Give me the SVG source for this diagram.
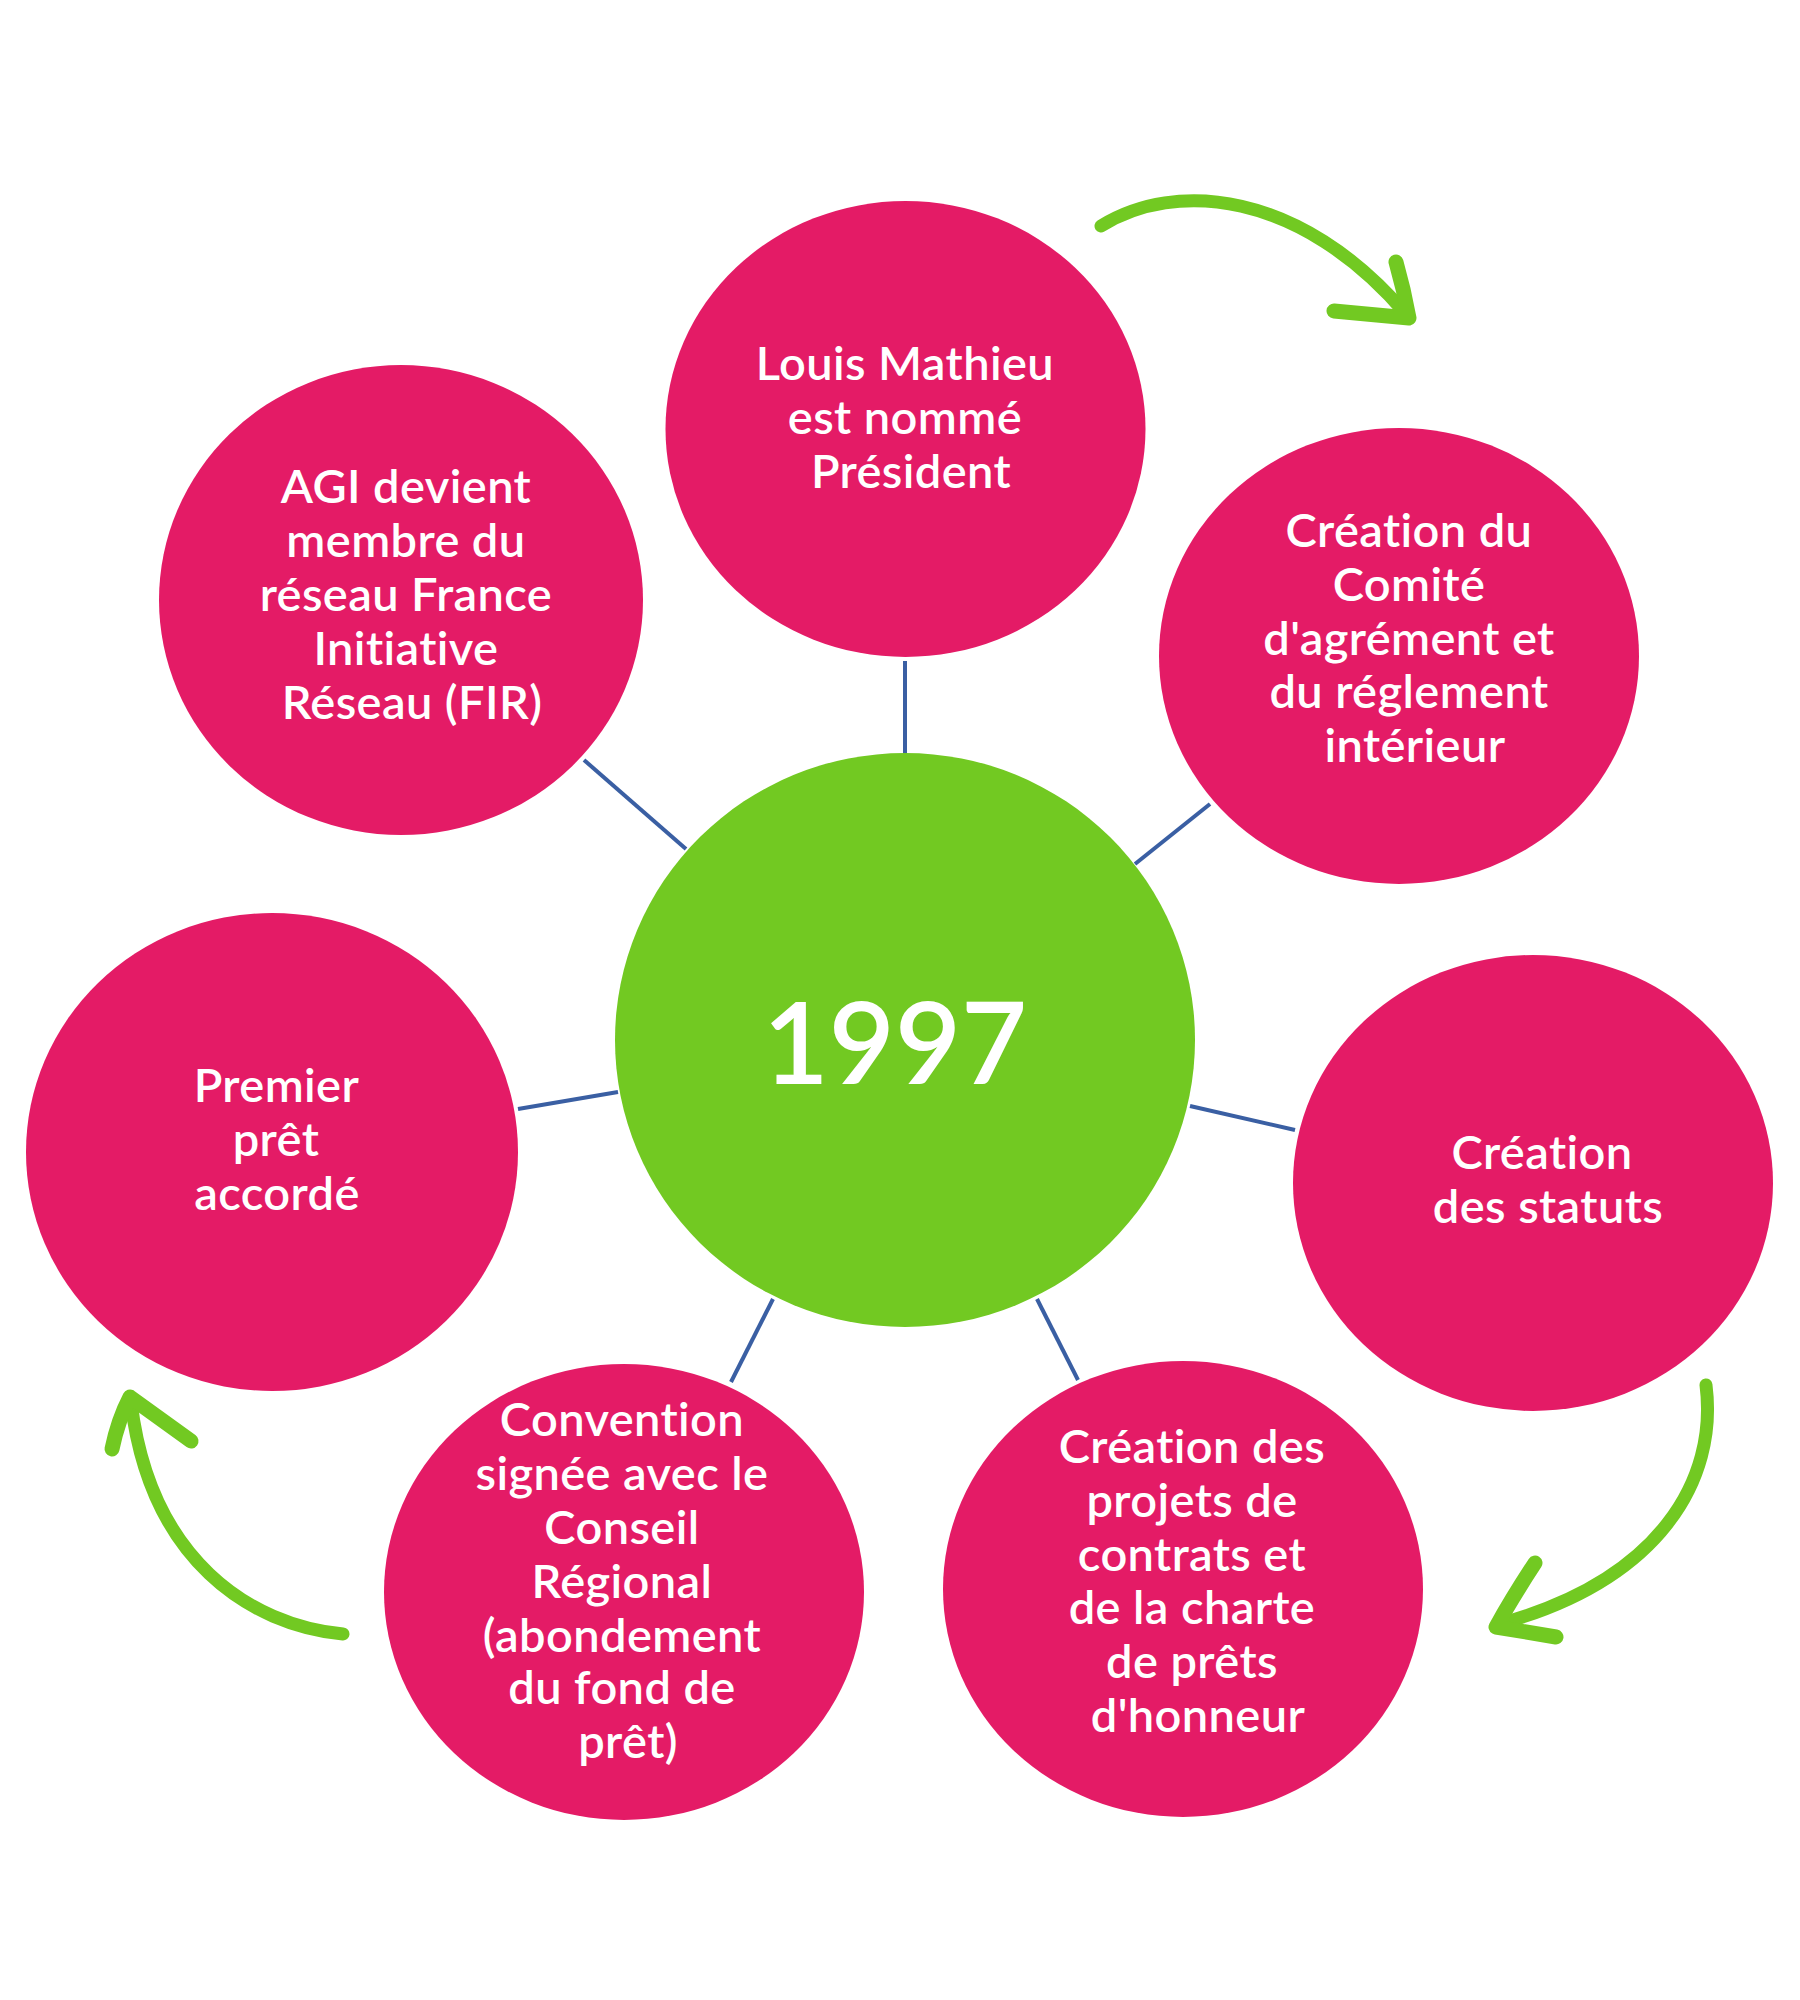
<svg xmlns="http://www.w3.org/2000/svg" width="1800" height="2000" viewBox="0 0 1800 2000">
  <defs>
    <style>
      .bubble { fill: #E41B66; }
      .hub { fill: #72C922; }
      .lbl { font-family: Lato, "Open Sans", "Liberation Sans", sans-serif; font-weight: 600; font-size: 47px; letter-spacing: 0.4px; fill: #FFFFFF; text-anchor: middle; }
      .year { font-family: Lato, "Open Sans", "Liberation Sans", sans-serif; font-weight: 600; font-size: 114px; fill: #FFFFFF; text-anchor: middle; }
      .link { stroke: #3A5FA3; stroke-width: 4; fill: none; }
      .arc { stroke: #72C922; stroke-width: 13; fill: none; stroke-linecap: round; stroke-linejoin: round; }
      .barb { stroke: #72C922; stroke-width: 15; fill: none; stroke-linecap: round; stroke-linejoin: round; }
    </style>
  </defs>
  <rect width="1800" height="2000" fill="#FFFFFF"/>

  <g id="connectors">
    <line class="link" x1="905" y1="661" x2="905" y2="753"/>
    <line class="link" x1="584" y1="760" x2="686" y2="849"/>
    <line class="link" x1="1210" y1="804" x2="1135" y2="864"/>
    <line class="link" x1="1190" y1="1106" x2="1295" y2="1130"/>
    <line class="link" x1="518" y1="1109" x2="618" y2="1092"/>
    <line class="link" x1="773" y1="1299" x2="731" y2="1382"/>
    <line class="link" x1="1037" y1="1299" x2="1078" y2="1380"/>
  </g>

  <g id="cycle-arrows">
    <g id="arrow-top">
      <path class="arc" d="M1101,226 C1175,180 1300,190 1406,314"/>
      <path class="barb" d="M1396,262 Q1404,290 1409,318 L1334,311"/>
    </g>
    <g id="arrow-right">
      <path class="arc" d="M1706,1385 C1718,1480 1660,1580 1499,1624"/>
      <path class="barb" d="M1535,1563 Q1512,1598 1496,1627 L1556,1637"/>
    </g>
    <g id="arrow-left">
      <path class="arc" d="M343,1634 C250,1625 150,1560 131,1402"/>
      <path class="barb" d="M112,1449 Q118,1420 130,1397 L191,1441"/>
    </g>
  </g>

  <g id="node-center">
    <ellipse class="hub" cx="905" cy="1040" rx="290" ry="287"/>
    <text class="year" x="895" y="1084">1997</text>
  </g>

  <g id="node-president">
    <ellipse class="bubble" cx="905.5" cy="429" rx="240" ry="228"/>
    <text class="lbl">
      <tspan x="911" y="380">Louis Mathieu</tspan>
      <tspan x="911" y="434">est nommé</tspan>
      <tspan x="911" y="488">Président</tspan>
    </text>
  </g>

  <g id="node-fir">
    <ellipse class="bubble" cx="401" cy="600" rx="242" ry="235"/>
    <text class="lbl">
      <tspan x="412" y="503">AGI devient</tspan>
      <tspan x="412" y="557">membre du</tspan>
      <tspan x="412" y="611">réseau France</tspan>
      <tspan x="412" y="665">Initiative</tspan>
      <tspan x="412" y="719">Réseau (FIR)</tspan>
    </text>
  </g>

  <g id="node-comite">
    <ellipse class="bubble" cx="1399" cy="656" rx="240" ry="228"/>
    <text class="lbl">
      <tspan x="1415" y="547">Création du</tspan>
      <tspan x="1415" y="601">Comité</tspan>
      <tspan x="1415" y="655">d'agrément et</tspan>
      <tspan x="1415" y="708">du réglement</tspan>
      <tspan x="1415" y="762">intérieur</tspan>
    </text>
  </g>

  <g id="node-statuts">
    <ellipse class="bubble" cx="1533" cy="1183" rx="240" ry="228"/>
    <text class="lbl">
      <tspan x="1548" y="1169">Création</tspan>
      <tspan x="1548" y="1223">des statuts</tspan>
    </text>
  </g>

  <g id="node-projets">
    <ellipse class="bubble" cx="1183" cy="1589" rx="240" ry="228"/>
    <text class="lbl">
      <tspan x="1198" y="1463">Création des</tspan>
      <tspan x="1198" y="1517">projets de</tspan>
      <tspan x="1198" y="1571">contrats et</tspan>
      <tspan x="1198" y="1624">de la charte</tspan>
      <tspan x="1198" y="1678">de prêts</tspan>
      <tspan x="1198" y="1732">d'honneur</tspan>
    </text>
  </g>

  <g id="node-convention">
    <ellipse class="bubble" cx="624" cy="1592" rx="240" ry="228"/>
    <text class="lbl">
      <tspan x="628" y="1436">Convention</tspan>
      <tspan x="628" y="1490">signée avec le</tspan>
      <tspan x="628" y="1544">Conseil</tspan>
      <tspan x="628" y="1598">Régional</tspan>
      <tspan x="628" y="1652">(abondement</tspan>
      <tspan x="628" y="1704">du fond de</tspan>
      <tspan x="628" y="1758">prêt)</tspan>
    </text>
  </g>

  <g id="node-premier-pret">
    <ellipse class="bubble" cx="272" cy="1152" rx="246" ry="239"/>
    <text class="lbl">
      <tspan x="282" y="1102">Premier</tspan>
      <tspan x="282" y="1156">prêt</tspan>
      <tspan x="277" y="1210">accordé</tspan>
    </text>
  </g>
</svg>
